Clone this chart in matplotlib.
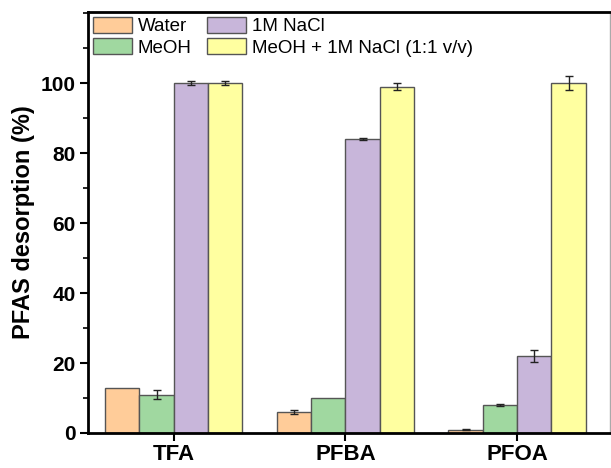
import numpy as np
import matplotlib.pyplot as plt
from matplotlib.ticker import MultipleLocator

plt.rcParams['font.family'] = ['Liberation Sans', 'DejaVu Sans']

compounds = ['TFA', 'PFBA', 'PFOA']
series = ['Water', 'MeOH', '1M NaCl', 'MeOH + 1M NaCl (1:1 v/v)']
values = {
    'Water': [13.0, 6.0, 1.0],
    'MeOH': [11.0, 10.0, 8.0],
    '1M NaCl': [100.0, 84.0, 22.0],
    'MeOH + 1M NaCl (1:1 v/v)': [100.0, 99.0, 100.0],
}
errors = {
    'Water': [0.0, 0.7, 0.2],
    'MeOH': [1.2, 0.0, 0.3],
    '1M NaCl': [0.5, 0.3, 1.8],
    'MeOH + 1M NaCl (1:1 v/v)': [0.5, 1.1, 1.9],
}
colors = ['#FFCC99', '#A0D8A0', '#C8B6DA', '#FFFFA0']

fig = plt.figure(figsize=(6.11, 4.68), dpi=100)
ax = fig.add_axes([88/611, 1 - 433/468, 1 - 88/611 - 0.002, (433 - 12)/468])

x = np.arange(1, len(compounds) + 1)
w = 0.2
offsets = [-1.5, -0.5, 0.5, 1.5]
for s, c, o in zip(series, colors, offsets):
    ax.bar(x + o*w, values[s], w, color=c, edgecolor='#555555', linewidth=1.0,
           label=s, zorder=2)
    err = np.array(errors[s])
    mask = err > 0
    ax.errorbar((x + o*w)[mask], np.array(values[s])[mask], yerr=err[mask],
                fmt='none', ecolor='#222222', elinewidth=1.0, capsize=3,
                capthick=1.0, zorder=3)

ax.set_xlim(0.5, 3.54)
ax.set_ylim(0, 120.3)
ax.set_xticks(x)
ax.set_xticklabels(compounds, fontsize=16, fontweight='bold')
ax.set_yticks([0, 20, 40, 60, 80, 100])
ax.yaxis.set_minor_locator(MultipleLocator(10))
for lbl in ax.get_yticklabels():
    lbl.set_fontweight('bold')
    lbl.set_fontsize(15)
ax.tick_params(axis='both', which='major', direction='out', length=6, width=1.5)
ax.tick_params(axis='x', which='major', pad=2)
ax.tick_params(axis='y', which='major', pad=3)
ax.tick_params(axis='y', which='minor', direction='out', length=3.5, width=1.2)
ax.set_ylabel('PFAS desorption (%)', fontsize=17, fontweight='bold', labelpad=4)

for side in ['left', 'bottom', 'top']:
    ax.spines[side].set_linewidth(2)
    ax.spines[side].set_color('black')
ax.spines['right'].set_linewidth(1)
ax.spines['right'].set_color('#aaaaaa')

ax.legend(ncol=2, loc='upper left', frameon=False, fontsize=13.5,
          handlelength=2.1, handleheight=0.95, handletextpad=0.3,
          columnspacing=0.8, labelspacing=0.15, borderaxespad=0.15,
          borderpad=0.1)

fig.savefig('out.png', dpi=100)
